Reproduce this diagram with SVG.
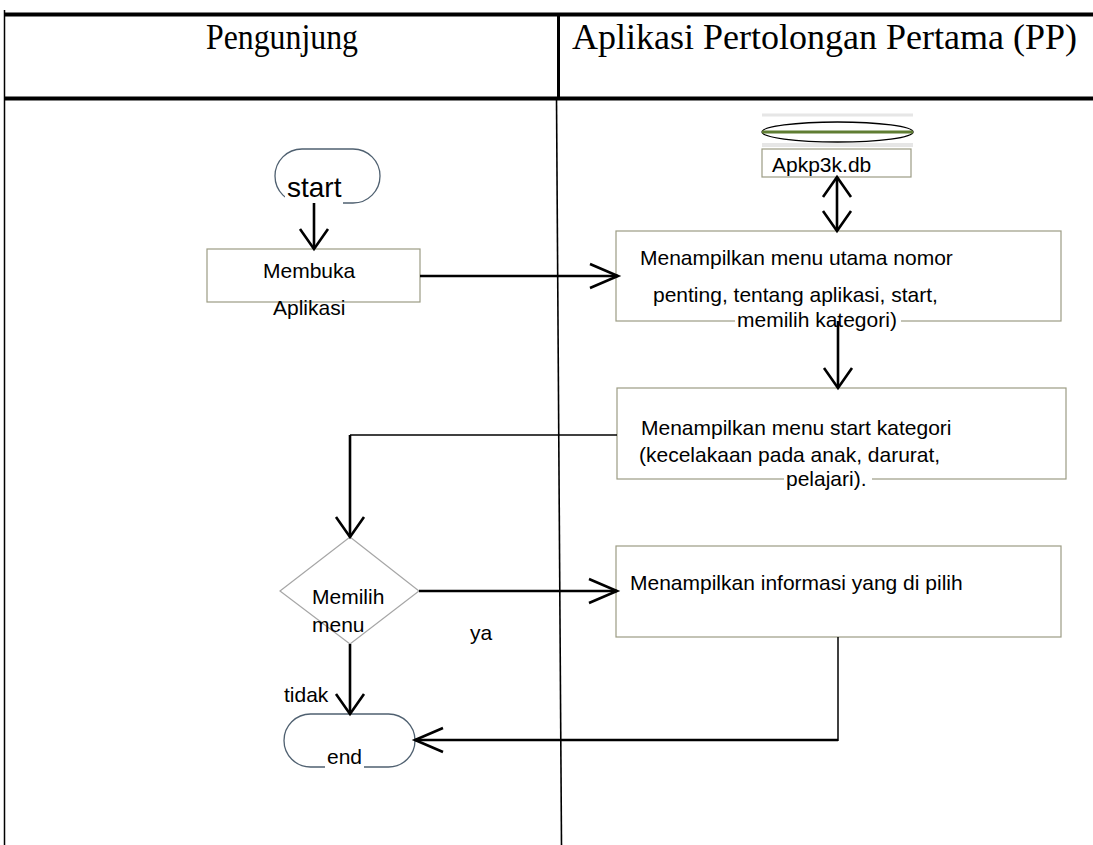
<svg xmlns="http://www.w3.org/2000/svg" width="1093" height="845" viewBox="0 0 1093 845">
  <style>
    .lane { stroke: #000; fill: none; }
    .hdr { font-family: "Liberation Serif", "Times New Roman", serif; font-size: 36px; fill: #000; }
    .lbl { font-family: "Liberation Sans", Arial, sans-serif; font-size: 21px; fill: #000; }
    .box { fill: #fff; stroke: #9c9c84; stroke-width: 1.2; }
    .term { fill: #fff; stroke: #4f6070; stroke-width: 1.3; }
    .dia { fill: #fff; stroke: #a6a6a6; stroke-width: 1.2; }
    .mask { fill: #fff; stroke: none; }
    .conn { fill: none; stroke: #000; stroke-width: 2.6; }
    .thin { fill: none; stroke: #000; stroke-width: 1.5; }
    .v { marker-end: url(#arrV); }
    .h { marker-end: url(#arrH); }
  </style>
  <defs>
    <!-- open V heads: a short/wide one for vertical runs, a long/narrow one for horizontal runs -->
    <marker id="arrV" markerUnits="userSpaceOnUse" viewBox="-24 -16 28 32" refX="0" refY="0" markerWidth="28" markerHeight="32" orient="auto-start-reverse" overflow="visible">
      <path d="M-20,-14 L0,0 L-20,14" fill="none" stroke="#000" stroke-width="2.6"/>
    </marker>
    <marker id="arrH" markerUnits="userSpaceOnUse" viewBox="-32 -16 36 32" refX="0" refY="0" markerWidth="36" markerHeight="32" orient="auto-start-reverse" overflow="visible">
      <path d="M-28,-12 L0,0 L-28,12" fill="none" stroke="#000" stroke-width="2.6"/>
    </marker>
  </defs>

  <rect x="0" y="0" width="1093" height="845" fill="#fff"/>

  <!-- swimlane frame -->
  <g id="lanes">
    <line class="lane" x1="4.5" y1="10" x2="4.5" y2="845" stroke-width="1.5"/>
    <line class="lane" x1="4" y1="14.5" x2="1093" y2="14.5" stroke-width="4"/>
    <line class="lane" x1="4" y1="98.5" x2="1093" y2="98.5" stroke-width="4"/>
    <line class="lane" x1="558.5" y1="14" x2="558.5" y2="98" stroke-width="3"/>
    <line class="lane" x1="556.5" y1="98" x2="561.5" y2="845" stroke-width="1.6"/>
    <text class="hdr" x="206" y="49" textLength="152" lengthAdjust="spacingAndGlyphs">Pengunjung</text>
    <text class="hdr" x="572" y="49">Aplikasi Pertolongan Pertama (PP)</text>
  </g>

  <!-- left lane: visitor -->
  <g id="start">
    <rect class="term" x="275" y="149" width="105" height="54" rx="27" ry="27"/>
    <rect class="mask" x="285" y="176" width="58" height="30"/>
    <text class="lbl" x="287" y="197" style="font-size:28px">start</text>
  </g>

  <g id="membuka">
    <rect class="box" x="207" y="249" width="213" height="53"/>
    <text class="lbl" x="263" y="278">Membuka</text>
    <text class="lbl" x="273" y="315">Aplikasi</text>
  </g>

  <g id="memilih">
    <polygon class="dia" points="350,537 419,591 350,644 280,591"/>
    <text class="lbl" x="312" y="604">Memilih</text>
    <text class="lbl" x="312" y="632">menu</text>
  </g>

  <g id="end">
    <rect class="term" x="284" y="714" width="131" height="53" rx="26.5" ry="26.5"/>
    <rect class="mask" x="325" y="748" width="39" height="22"/>
    <text class="lbl" x="327" y="764">end</text>
  </g>

  <!-- right lane: application -->
  <g id="database">
    <line x1="762" y1="115" x2="913" y2="115" stroke="#e6e6e6" stroke-width="3"/>
    <line x1="762" y1="145" x2="913" y2="145" stroke="#e6e6e6" stroke-width="4"/>
    <ellipse cx="837.5" cy="132" rx="75.5" ry="10" fill="#fff" stroke="#000" stroke-width="1.4"/>
    <line x1="762" y1="132" x2="913" y2="132" stroke="#5f7d32" stroke-width="3"/>
    <rect class="box" x="762" y="149" width="149" height="28"/>
    <text class="lbl" x="772" y="172">Apkp3k.db</text>
  </g>

  <g id="menu-utama">
    <rect class="box" x="616" y="231" width="445" height="90"/>
    <text class="lbl" x="640" y="265">Menampilkan menu utama nomor</text>
    <text class="lbl" x="653" y="302">penting, tentang aplikasi, start,</text>
    <rect class="mask" x="735" y="310" width="166" height="22"/>
    <text class="lbl" x="737" y="327">memilih kategori)</text>
  </g>

  <g id="menu-kategori">
    <rect class="box" x="617" y="388" width="449" height="91"/>
    <text class="lbl" x="641" y="435">Menampilkan menu start kategori</text>
    <text class="lbl" x="639" y="462">(kecelakaan pada anak, darurat,</text>
    <rect class="mask" x="784" y="468" width="88" height="22"/>
    <text class="lbl" x="786" y="486">pelajari).</text>
  </g>

  <g id="informasi">
    <rect class="box" x="616" y="546" width="445" height="91"/>
    <text class="lbl" x="630" y="590">Menampilkan informasi yang di pilih</text>
  </g>

  <text id="label-ya" class="lbl" x="470" y="640">ya</text>
  <text id="label-tidak" class="lbl" x="284" y="702">tidak</text>

  <!-- connectors -->
  <g id="connectors">
    <line class="conn v" x1="314" y1="203" x2="314" y2="249"/>
    <line class="conn h" x1="420" y1="276" x2="618" y2="276"/>
    <line class="conn" x1="837" y1="177" x2="837" y2="231" marker-start="url(#arrV)" marker-end="url(#arrV)"/>
    <line class="conn v" x1="838" y1="321" x2="838" y2="388"/>
    <line class="thin" x1="617" y1="435" x2="350" y2="435"/>
    <line class="conn v" x1="350" y1="435" x2="350" y2="537"/>
    <line class="conn h" x1="419" y1="591" x2="617" y2="591"/>
    <line class="conn v" x1="350" y1="644" x2="350" y2="714"/>
    <line class="thin" x1="838" y1="637" x2="838" y2="741"/>
    <line class="conn h" x1="838" y1="740" x2="415" y2="740"/>
  </g>
</svg>
